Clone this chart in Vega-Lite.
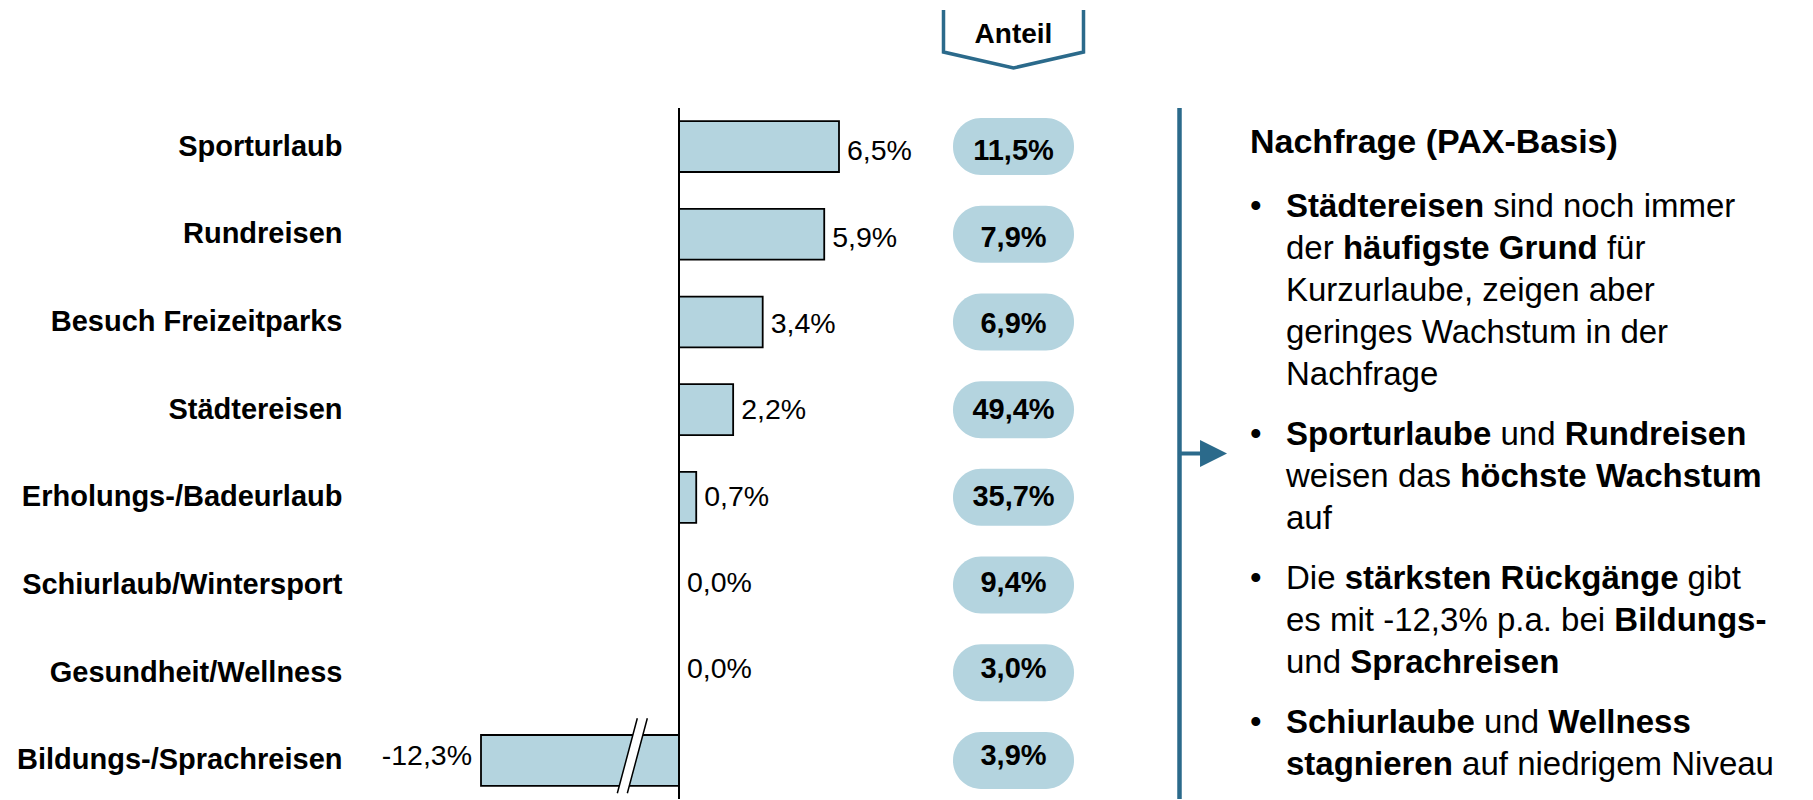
{
  "$schema": "https://vega.github.io/schema/vega-lite/v6.json",
  "width": 1461,
  "height": 691,
  "autosize": {"type": "none"},
  "padding": {"left": 352, "top": 108, "right": 0, "bottom": 0},
  "background": "white",
  "config": {
    "font": "Liberation Sans",
    "view": {"stroke": null},
    "locale": {"number": {"decimal": ",", "thousands": ".", "grouping": [3], "currency": ["", " €"], "minus": "-"}}
  },
  "datasets": {
    "wachstum": [
      {"kategorie": "Sporturlaub", "wachstum": 0.065, "anteil": 0.115},
      {"kategorie": "Rundreisen", "wachstum": 0.059, "anteil": 0.079},
      {"kategorie": "Besuch Freizeitparks", "wachstum": 0.034, "anteil": 0.069},
      {"kategorie": "Städtereisen", "wachstum": 0.022, "anteil": 0.494},
      {"kategorie": "Erholungs-/Badeurlaub", "wachstum": 0.007, "anteil": 0.357},
      {"kategorie": "Schiurlaub/Wintersport", "wachstum": 0.0, "anteil": 0.094},
      {"kategorie": "Gesundheit/Wellness", "wachstum": 0.0, "anteil": 0.03},
      {"kategorie": "Bildungs-/Sprachreisen", "wachstum": -0.123, "anteil": 0.039}
    ],
    "segmente": [
      {"zeile": 0, "teil": 1, "fett": true, "text": "Nachfrage (PAX-Basis)"},
      {"zeile": 1, "teil": 0, "fett": false, "text": "•"},
      {"zeile": 1, "teil": 1, "fett": true, "text": "Städtereisen"},
      {"zeile": 1, "teil": 2, "fett": false, "text": "sind noch immer"},
      {"zeile": 2, "teil": 1, "fett": false, "text": "der"},
      {"zeile": 2, "teil": 2, "fett": true, "text": "häufigste Grund"},
      {"zeile": 2, "teil": 3, "fett": false, "text": "für"},
      {"zeile": 3, "teil": 1, "fett": false, "text": "Kurzurlaube, zeigen aber"},
      {"zeile": 4, "teil": 1, "fett": false, "text": "geringes Wachstum in der"},
      {"zeile": 5, "teil": 1, "fett": false, "text": "Nachfrage"},
      {"zeile": 6, "teil": 0, "fett": false, "text": "•"},
      {"zeile": 6, "teil": 1, "fett": true, "text": "Sporturlaube"},
      {"zeile": 6, "teil": 2, "fett": false, "text": "und"},
      {"zeile": 6, "teil": 3, "fett": true, "text": "Rundreisen"},
      {"zeile": 7, "teil": 1, "fett": false, "text": "weisen das"},
      {"zeile": 7, "teil": 2, "fett": true, "text": "höchste Wachstum"},
      {"zeile": 8, "teil": 1, "fett": false, "text": "auf"},
      {"zeile": 9, "teil": 0, "fett": false, "text": "•"},
      {"zeile": 9, "teil": 1, "fett": false, "text": "Die"},
      {"zeile": 9, "teil": 2, "fett": true, "text": "stärksten Rückgänge"},
      {"zeile": 9, "teil": 3, "fett": false, "text": "gibt"},
      {"zeile": 10, "teil": 1, "fett": false, "text": "es mit -12,3% p.a. bei"},
      {"zeile": 10, "teil": 2, "fett": true, "text": "Bildungs-"},
      {"zeile": 11, "teil": 1, "fett": false, "text": "und"},
      {"zeile": 11, "teil": 2, "fett": true, "text": "Sprachreisen"},
      {"zeile": 12, "teil": 0, "fett": false, "text": "•"},
      {"zeile": 12, "teil": 1, "fett": true, "text": "Schiurlaube"},
      {"zeile": 12, "teil": 2, "fett": false, "text": "und"},
      {"zeile": 12, "teil": 3, "fett": true, "text": "Wellness"},
      {"zeile": 13, "teil": 1, "fett": true, "text": "stagnieren"},
      {"zeile": 13, "teil": 2, "fett": false, "text": "auf niedrigem Niveau"}
    ]
  },
  "layer": [
    {
      "data": {"name": "wachstum"},
      "mark": {"type": "bar", "fill": "#B4D4DF", "stroke": "#000000", "strokeWidth": 1.8},
      "encoding": {
        "y": {"field": "kategorie", "type": "nominal", "sort": null,
              "scale": {"domain": ["Sporturlaub", "Rundreisen", "Besuch Freizeitparks", "Städtereisen", "Erholungs-/Badeurlaub", "Schiurlaub/Wintersport", "Gesundheit/Wellness", "Bildungs-/Sprachreisen"], "paddingInner": 0.42, "paddingOuter": 0.15},
              "axis": {"title": null, "domain": false, "ticks": false, "labelFontSize": 29, "labelFontWeight": "bold", "labelColor": "#000000", "labelPadding": 10, "labelLimit": 600, "labelFont": "Liberation Sans"}},
        "x": {"field": "wachstum", "type": "quantitative",
              "scale": {"domain": [-0.123, 0, 0.065], "range": [129, 327, 487], "nice": false, "zero": false}, "axis": null}
      }
    },
    {
      "data": {"values": [{}]},
      "mark": {"type": "rule", "stroke": "#000000", "strokeWidth": 2},
      "encoding": {
        "x": {"datum": 0, "type": "quantitative", "scale": {"domain": [-0.123, 0, 0.065], "range": [129, 327, 487], "nice": false, "zero": false}, "axis": null}
      }
    },
    {
      "data": {"name": "wachstum"},
      "transform": [{"filter": "datum.wachstum >= 0"}],
      "mark": {"type": "text", "align": "left", "baseline": "middle", "dx": 8, "fontSize": 28.5, "fill": "#000000"},
      "encoding": {
        "y": {"field": "kategorie", "type": "nominal", "sort": null,
              "scale": {"domain": ["Sporturlaub", "Rundreisen", "Besuch Freizeitparks", "Städtereisen", "Erholungs-/Badeurlaub", "Schiurlaub/Wintersport", "Gesundheit/Wellness", "Bildungs-/Sprachreisen"], "paddingInner": 0.42, "paddingOuter": 0.15}, "axis": null},
        "x": {"field": "wachstum", "type": "quantitative", "scale": {"domain": [-0.123, 0, 0.065], "range": [129, 327, 487], "nice": false, "zero": false}, "axis": null},
        "text": {"field": "wachstum", "type": "quantitative", "format": ".1%"}
      }
    },
    {
      "data": {"name": "wachstum"},
      "transform": [{"filter": "datum.wachstum < 0"}],
      "mark": {"type": "text", "align": "right", "baseline": "middle", "dx": -9, "fontSize": 28.5, "fill": "#000000"},
      "encoding": {
        "y": {"field": "kategorie", "type": "nominal", "sort": null,
              "scale": {"domain": ["Sporturlaub", "Rundreisen", "Besuch Freizeitparks", "Städtereisen", "Erholungs-/Badeurlaub", "Schiurlaub/Wintersport", "Gesundheit/Wellness", "Bildungs-/Sprachreisen"], "paddingInner": 0.42, "paddingOuter": 0.15}, "axis": null},
        "x": {"field": "wachstum", "type": "quantitative", "scale": {"domain": [-0.123, 0, 0.065], "range": [129, 327, 487], "nice": false, "zero": false}, "axis": null},
        "text": {"field": "wachstum", "type": "quantitative", "format": ".1%"}
      }
    },
    {
      "data": {"name": "wachstum"},
      "transform": [{"filter": "datum.wachstum < -0.1"}],
      "mark": {"type": "point", "shape": "M0.133,-1L0.4,-1L-0.133,1L-0.4,1Z", "size": 5625, "filled": true, "fill": "#FFFFFF", "opacity": 1, "strokeWidth": 0},
      "encoding": {
        "y": {"field": "kategorie", "type": "nominal", "sort": null,
              "scale": {"domain": ["Sporturlaub", "Rundreisen", "Besuch Freizeitparks", "Städtereisen", "Erholungs-/Badeurlaub", "Schiurlaub/Wintersport", "Gesundheit/Wellness", "Bildungs-/Sprachreisen"], "paddingInner": 0.42, "paddingOuter": 0.15}, "axis": null},
        "x": {"datum": -0.029, "type": "quantitative", "scale": {"domain": [-0.123, 0, 0.065], "range": [129, 327, 487], "nice": false, "zero": false}, "axis": null}
      }
    },
    {
      "data": {"name": "wachstum"},
      "transform": [{"filter": "datum.wachstum < -0.1"}],
      "mark": {"type": "point", "shape": "M0.133,-1L-0.4,1M0.4,-1L-0.133,1", "size": 5625, "filled": false, "stroke": "#000000", "strokeWidth": 1.5, "opacity": 1},
      "encoding": {
        "y": {"field": "kategorie", "type": "nominal", "sort": null,
              "scale": {"domain": ["Sporturlaub", "Rundreisen", "Besuch Freizeitparks", "Städtereisen", "Erholungs-/Badeurlaub", "Schiurlaub/Wintersport", "Gesundheit/Wellness", "Bildungs-/Sprachreisen"], "paddingInner": 0.42, "paddingOuter": 0.15}, "axis": null},
        "x": {"datum": -0.029, "type": "quantitative", "scale": {"domain": [-0.123, 0, 0.065], "range": [129, 327, 487], "nice": false, "zero": false}, "axis": null}
      }
    },
    {
      "data": {"name": "wachstum"},
      "mark": {"type": "bar", "fill": "#B4D4DF", "cornerRadius": 28, "height": {"band": 1.12}},
      "encoding": {
        "y": {"field": "kategorie", "type": "nominal", "sort": null,
              "scale": {"domain": ["Sporturlaub", "Rundreisen", "Besuch Freizeitparks", "Städtereisen", "Erholungs-/Badeurlaub", "Schiurlaub/Wintersport", "Gesundheit/Wellness", "Bildungs-/Sprachreisen"], "paddingInner": 0.42, "paddingOuter": 0.15}, "axis": null},
        "x": {"datum": 0, "type": "quantitative", "scale": {"domain": [0, 1], "range": [601, 722], "nice": false, "zero": false}, "axis": null},
        "x2": {"datum": 1}
      }
    },
    {
      "data": {"name": "wachstum"},
      "mark": {"type": "text", "align": "center", "baseline": "middle", "fontSize": 29, "fontWeight": "bold", "fill": "#000000"},
      "encoding": {
        "y": {"field": "kategorie", "type": "nominal", "sort": null,
              "scale": {"domain": ["Sporturlaub", "Rundreisen", "Besuch Freizeitparks", "Städtereisen", "Erholungs-/Badeurlaub", "Schiurlaub/Wintersport", "Gesundheit/Wellness", "Bildungs-/Sprachreisen"], "paddingInner": 0.42, "paddingOuter": 0.15}, "axis": null},
        "x": {"datum": 0.5, "type": "quantitative", "scale": {"domain": [0, 1], "range": [601, 722], "nice": false, "zero": false}, "axis": null},
        "text": {"field": "anteil", "type": "quantitative", "format": ".1%"}
      }
    },
    {
      "data": {"values": [{"kopf": "Anteil"}]},
      "mark": {"type": "point", "shape": "M-1,-0.357L-1,0.243L0,0.471L1,0.243L1,-0.357", "size": 19600, "filled": false, "stroke": "#2B6A8B", "strokeWidth": 3.5, "opacity": 1},
      "encoding": {
        "x": {"datum": 0.5, "type": "quantitative", "scale": {"domain": [0, 1], "range": [601, 722], "nice": false, "zero": false}, "axis": null},
        "y": {"datum": 0, "type": "quantitative", "scale": {"domain": [0, 1], "range": [-73, 0], "nice": false, "zero": false}, "axis": null}
      }
    },
    {
      "data": {"values": [{"kopf": "Anteil"}]},
      "mark": {"type": "text", "align": "center", "baseline": "middle", "fontSize": 28, "fontWeight": "bold", "fill": "#000000"},
      "encoding": {
        "x": {"datum": 0.5, "type": "quantitative", "scale": {"domain": [0, 1], "range": [601, 722], "nice": false, "zero": false}, "axis": null},
        "y": {"datum": 0, "type": "quantitative", "scale": {"domain": [0, 1], "range": [-73, 0], "nice": false, "zero": false}, "axis": null},
        "text": {"field": "kopf", "type": "nominal"}
      }
    },
    {
      "data": {"values": [{}]},
      "mark": {"type": "rule", "stroke": "#2B6A8B", "strokeWidth": 4.5},
      "encoding": {
        "x": {"datum": 0, "type": "quantitative", "scale": {"domain": [0, 1, 2, 3], "range": [827.5, 851, 898, 934], "nice": false, "zero": false}, "axis": null}
      }
    },
    {
      "data": {"values": [{}]},
      "mark": {"type": "point", "shape": "M-1.78,-0.148L-0.22,-0.148L-0.22,-1L1.78,0L-0.22,1L-0.22,0.148L-1.78,0.148Z", "size": 729, "filled": true, "fill": "#2B6A8B", "opacity": 1, "strokeWidth": 0},
      "encoding": {
        "x": {"datum": 1, "type": "quantitative", "scale": {"domain": [0, 1, 2, 3], "range": [827.5, 851, 898, 934], "nice": false, "zero": false}, "axis": null}
      }
    },
    {
      "data": {"name": "segmente"},
      "transform": [{"filter": "datum.zeile == 0"}],
      "mark": {"type": "text", "align": "left", "baseline": "alphabetic", "fontSize": 34, "fontWeight": "bold", "fill": "#000000"},
      "encoding": {
        "x": {"datum": 2, "type": "quantitative", "scale": {"domain": [0, 1, 2, 3], "range": [827.5, 851, 898, 934], "nice": false, "zero": false}, "axis": null},
        "y": {"field": "zeile", "type": "quantitative", "scale": {"domain": [0, 1, 2, 3, 4, 5, 6, 7, 8, 9, 10, 11, 12, 13], "range": [45, 109, 151, 193, 235, 277, 337, 379, 421, 481, 523, 565, 625, 667], "nice": false, "zero": false}, "axis": null},
        "text": {"field": "text", "type": "nominal"}
      }
    },
    {
      "data": {"name": "segmente"},
      "transform": [{"filter": "datum.teil == 0"}],
      "mark": {"type": "text", "align": "left", "baseline": "alphabetic", "fontSize": 33, "fill": "#000000"},
      "encoding": {
        "x": {"datum": 2, "type": "quantitative", "scale": {"domain": [0, 1, 2, 3], "range": [827.5, 851, 898, 934], "nice": false, "zero": false}, "axis": null},
        "y": {"field": "zeile", "type": "quantitative", "scale": {"domain": [0, 1, 2, 3, 4, 5, 6, 7, 8, 9, 10, 11, 12, 13], "range": [45, 109, 151, 193, 235, 277, 337, 379, 421, 481, 523, 565, 625, 667], "nice": false, "zero": false}, "axis": null},
        "text": {"field": "text", "type": "nominal"}
      }
    },
    {
      "data": {"name": "segmente"},
      "transform": [{"filter": "datum.zeile > 0 && datum.teil == 1 && datum.fett"}],
      "mark": {"type": "text", "align": "left", "baseline": "alphabetic", "fontSize": 33, "fontWeight": "bold", "fill": "#000000"},
      "encoding": {
        "x": {"datum": 3, "type": "quantitative", "scale": {"domain": [0, 1, 2, 3], "range": [827.5, 851, 898, 934], "nice": false, "zero": false}, "axis": null},
        "y": {"field": "zeile", "type": "quantitative", "scale": {"domain": [0, 1, 2, 3, 4, 5, 6, 7, 8, 9, 10, 11, 12, 13], "range": [45, 109, 151, 193, 235, 277, 337, 379, 421, 481, 523, 565, 625, 667], "nice": false, "zero": false}, "axis": null},
        "text": {"field": "text", "type": "nominal"}
      }
    },
    {
      "data": {"name": "segmente"},
      "transform": [{"filter": "datum.zeile > 0 && datum.teil == 1 && !datum.fett"}],
      "mark": {"type": "text", "align": "left", "baseline": "alphabetic", "fontSize": 33, "fill": "#000000"},
      "encoding": {
        "x": {"datum": 3, "type": "quantitative", "scale": {"domain": [0, 1, 2, 3], "range": [827.5, 851, 898, 934], "nice": false, "zero": false}, "axis": null},
        "y": {"field": "zeile", "type": "quantitative", "scale": {"domain": [0, 1, 2, 3, 4, 5, 6, 7, 8, 9, 10, 11, 12, 13], "range": [45, 109, 151, 193, 235, 277, 337, 379, 421, 481, 523, 565, 625, 667], "nice": false, "zero": false}, "axis": null},
        "text": {"field": "text", "type": "nominal"}
      }
    },
    {
      "data": {"name": "segmente"},
      "transform": [{"filter": "datum.zeile == 1 && datum.teil == 2"}],
      "mark": {"type": "text", "align": "left", "baseline": "alphabetic", "fontSize": 33, "fill": "#000000", "dx": 207.2},
      "encoding": {
        "x": {"datum": 3, "type": "quantitative", "scale": {"domain": [0, 1, 2, 3], "range": [827.5, 851, 898, 934], "nice": false, "zero": false}, "axis": null},
        "y": {"field": "zeile", "type": "quantitative", "scale": {"domain": [0, 1, 2, 3, 4, 5, 6, 7, 8, 9, 10, 11, 12, 13], "range": [45, 109, 151, 193, 235, 277, 337, 379, 421, 481, 523, 565, 625, 667], "nice": false, "zero": false}, "axis": null},
        "text": {"field": "text", "type": "nominal"}
      }
    },
    {
      "data": {"name": "segmente"},
      "transform": [{"filter": "datum.zeile == 2 && datum.teil == 2"}],
      "mark": {"type": "text", "align": "left", "baseline": "alphabetic", "fontSize": 33, "fontWeight": "bold", "fill": "#000000", "dx": 56.9},
      "encoding": {
        "x": {"datum": 3, "type": "quantitative", "scale": {"domain": [0, 1, 2, 3], "range": [827.5, 851, 898, 934], "nice": false, "zero": false}, "axis": null},
        "y": {"field": "zeile", "type": "quantitative", "scale": {"domain": [0, 1, 2, 3, 4, 5, 6, 7, 8, 9, 10, 11, 12, 13], "range": [45, 109, 151, 193, 235, 277, 337, 379, 421, 481, 523, 565, 625, 667], "nice": false, "zero": false}, "axis": null},
        "text": {"field": "text", "type": "nominal"}
      }
    },
    {
      "data": {"name": "segmente"},
      "transform": [{"filter": "datum.zeile == 2 && datum.teil == 3"}],
      "mark": {"type": "text", "align": "left", "baseline": "alphabetic", "fontSize": 33, "fill": "#000000", "dx": 320.9},
      "encoding": {
        "x": {"datum": 3, "type": "quantitative", "scale": {"domain": [0, 1, 2, 3], "range": [827.5, 851, 898, 934], "nice": false, "zero": false}, "axis": null},
        "y": {"field": "zeile", "type": "quantitative", "scale": {"domain": [0, 1, 2, 3, 4, 5, 6, 7, 8, 9, 10, 11, 12, 13], "range": [45, 109, 151, 193, 235, 277, 337, 379, 421, 481, 523, 565, 625, 667], "nice": false, "zero": false}, "axis": null},
        "text": {"field": "text", "type": "nominal"}
      }
    },
    {
      "data": {"name": "segmente"},
      "transform": [{"filter": "datum.zeile == 6 && datum.teil == 2"}],
      "mark": {"type": "text", "align": "left", "baseline": "alphabetic", "fontSize": 33, "fill": "#000000", "dx": 214.5},
      "encoding": {
        "x": {"datum": 3, "type": "quantitative", "scale": {"domain": [0, 1, 2, 3], "range": [827.5, 851, 898, 934], "nice": false, "zero": false}, "axis": null},
        "y": {"field": "zeile", "type": "quantitative", "scale": {"domain": [0, 1, 2, 3, 4, 5, 6, 7, 8, 9, 10, 11, 12, 13], "range": [45, 109, 151, 193, 235, 277, 337, 379, 421, 481, 523, 565, 625, 667], "nice": false, "zero": false}, "axis": null},
        "text": {"field": "text", "type": "nominal"}
      }
    },
    {
      "data": {"name": "segmente"},
      "transform": [{"filter": "datum.zeile == 6 && datum.teil == 3"}],
      "mark": {"type": "text", "align": "left", "baseline": "alphabetic", "fontSize": 33, "fontWeight": "bold", "fill": "#000000", "dx": 278.8},
      "encoding": {
        "x": {"datum": 3, "type": "quantitative", "scale": {"domain": [0, 1, 2, 3], "range": [827.5, 851, 898, 934], "nice": false, "zero": false}, "axis": null},
        "y": {"field": "zeile", "type": "quantitative", "scale": {"domain": [0, 1, 2, 3, 4, 5, 6, 7, 8, 9, 10, 11, 12, 13], "range": [45, 109, 151, 193, 235, 277, 337, 379, 421, 481, 523, 565, 625, 667], "nice": false, "zero": false}, "axis": null},
        "text": {"field": "text", "type": "nominal"}
      }
    },
    {
      "data": {"name": "segmente"},
      "transform": [{"filter": "datum.zeile == 7 && datum.teil == 2"}],
      "mark": {"type": "text", "align": "left", "baseline": "alphabetic", "fontSize": 33, "fontWeight": "bold", "fill": "#000000", "dx": 174.2},
      "encoding": {
        "x": {"datum": 3, "type": "quantitative", "scale": {"domain": [0, 1, 2, 3], "range": [827.5, 851, 898, 934], "nice": false, "zero": false}, "axis": null},
        "y": {"field": "zeile", "type": "quantitative", "scale": {"domain": [0, 1, 2, 3, 4, 5, 6, 7, 8, 9, 10, 11, 12, 13], "range": [45, 109, 151, 193, 235, 277, 337, 379, 421, 481, 523, 565, 625, 667], "nice": false, "zero": false}, "axis": null},
        "text": {"field": "text", "type": "nominal"}
      }
    },
    {
      "data": {"name": "segmente"},
      "transform": [{"filter": "datum.zeile == 9 && datum.teil == 2"}],
      "mark": {"type": "text", "align": "left", "baseline": "alphabetic", "fontSize": 33, "fontWeight": "bold", "fill": "#000000", "dx": 58.7},
      "encoding": {
        "x": {"datum": 3, "type": "quantitative", "scale": {"domain": [0, 1, 2, 3], "range": [827.5, 851, 898, 934], "nice": false, "zero": false}, "axis": null},
        "y": {"field": "zeile", "type": "quantitative", "scale": {"domain": [0, 1, 2, 3, 4, 5, 6, 7, 8, 9, 10, 11, 12, 13], "range": [45, 109, 151, 193, 235, 277, 337, 379, 421, 481, 523, 565, 625, 667], "nice": false, "zero": false}, "axis": null},
        "text": {"field": "text", "type": "nominal"}
      }
    },
    {
      "data": {"name": "segmente"},
      "transform": [{"filter": "datum.zeile == 9 && datum.teil == 3"}],
      "mark": {"type": "text", "align": "left", "baseline": "alphabetic", "fontSize": 33, "fill": "#000000", "dx": 401.6},
      "encoding": {
        "x": {"datum": 3, "type": "quantitative", "scale": {"domain": [0, 1, 2, 3], "range": [827.5, 851, 898, 934], "nice": false, "zero": false}, "axis": null},
        "y": {"field": "zeile", "type": "quantitative", "scale": {"domain": [0, 1, 2, 3, 4, 5, 6, 7, 8, 9, 10, 11, 12, 13], "range": [45, 109, 151, 193, 235, 277, 337, 379, 421, 481, 523, 565, 625, 667], "nice": false, "zero": false}, "axis": null},
        "text": {"field": "text", "type": "nominal"}
      }
    },
    {
      "data": {"name": "segmente"},
      "transform": [{"filter": "datum.zeile == 10 && datum.teil == 2"}],
      "mark": {"type": "text", "align": "left", "baseline": "alphabetic", "fontSize": 33, "fontWeight": "bold", "fill": "#000000", "dx": 328.3},
      "encoding": {
        "x": {"datum": 3, "type": "quantitative", "scale": {"domain": [0, 1, 2, 3], "range": [827.5, 851, 898, 934], "nice": false, "zero": false}, "axis": null},
        "y": {"field": "zeile", "type": "quantitative", "scale": {"domain": [0, 1, 2, 3, 4, 5, 6, 7, 8, 9, 10, 11, 12, 13], "range": [45, 109, 151, 193, 235, 277, 337, 379, 421, 481, 523, 565, 625, 667], "nice": false, "zero": false}, "axis": null},
        "text": {"field": "text", "type": "nominal"}
      }
    },
    {
      "data": {"name": "segmente"},
      "transform": [{"filter": "datum.zeile == 11 && datum.teil == 2"}],
      "mark": {"type": "text", "align": "left", "baseline": "alphabetic", "fontSize": 33, "fontWeight": "bold", "fill": "#000000", "dx": 64.2},
      "encoding": {
        "x": {"datum": 3, "type": "quantitative", "scale": {"domain": [0, 1, 2, 3], "range": [827.5, 851, 898, 934], "nice": false, "zero": false}, "axis": null},
        "y": {"field": "zeile", "type": "quantitative", "scale": {"domain": [0, 1, 2, 3, 4, 5, 6, 7, 8, 9, 10, 11, 12, 13], "range": [45, 109, 151, 193, 235, 277, 337, 379, 421, 481, 523, 565, 625, 667], "nice": false, "zero": false}, "axis": null},
        "text": {"field": "text", "type": "nominal"}
      }
    },
    {
      "data": {"name": "segmente"},
      "transform": [{"filter": "datum.zeile == 12 && datum.teil == 2"}],
      "mark": {"type": "text", "align": "left", "baseline": "alphabetic", "fontSize": 33, "fill": "#000000", "dx": 198.1},
      "encoding": {
        "x": {"datum": 3, "type": "quantitative", "scale": {"domain": [0, 1, 2, 3], "range": [827.5, 851, 898, 934], "nice": false, "zero": false}, "axis": null},
        "y": {"field": "zeile", "type": "quantitative", "scale": {"domain": [0, 1, 2, 3, 4, 5, 6, 7, 8, 9, 10, 11, 12, 13], "range": [45, 109, 151, 193, 235, 277, 337, 379, 421, 481, 523, 565, 625, 667], "nice": false, "zero": false}, "axis": null},
        "text": {"field": "text", "type": "nominal"}
      }
    },
    {
      "data": {"name": "segmente"},
      "transform": [{"filter": "datum.zeile == 12 && datum.teil == 3"}],
      "mark": {"type": "text", "align": "left", "baseline": "alphabetic", "fontSize": 33, "fontWeight": "bold", "fill": "#000000", "dx": 262.3},
      "encoding": {
        "x": {"datum": 3, "type": "quantitative", "scale": {"domain": [0, 1, 2, 3], "range": [827.5, 851, 898, 934], "nice": false, "zero": false}, "axis": null},
        "y": {"field": "zeile", "type": "quantitative", "scale": {"domain": [0, 1, 2, 3, 4, 5, 6, 7, 8, 9, 10, 11, 12, 13], "range": [45, 109, 151, 193, 235, 277, 337, 379, 421, 481, 523, 565, 625, 667], "nice": false, "zero": false}, "axis": null},
        "text": {"field": "text", "type": "nominal"}
      }
    },
    {
      "data": {"name": "segmente"},
      "transform": [{"filter": "datum.zeile == 13 && datum.teil == 2"}],
      "mark": {"type": "text", "align": "left", "baseline": "alphabetic", "fontSize": 33, "fill": "#000000", "dx": 176.1},
      "encoding": {
        "x": {"datum": 3, "type": "quantitative", "scale": {"domain": [0, 1, 2, 3], "range": [827.5, 851, 898, 934], "nice": false, "zero": false}, "axis": null},
        "y": {"field": "zeile", "type": "quantitative", "scale": {"domain": [0, 1, 2, 3, 4, 5, 6, 7, 8, 9, 10, 11, 12, 13], "range": [45, 109, 151, 193, 235, 277, 337, 379, 421, 481, 523, 565, 625, 667], "nice": false, "zero": false}, "axis": null},
        "text": {"field": "text", "type": "nominal"}
      }
    }
  ],
  "resolve": {"scale": {"x": "independent", "y": "independent"}}
}
